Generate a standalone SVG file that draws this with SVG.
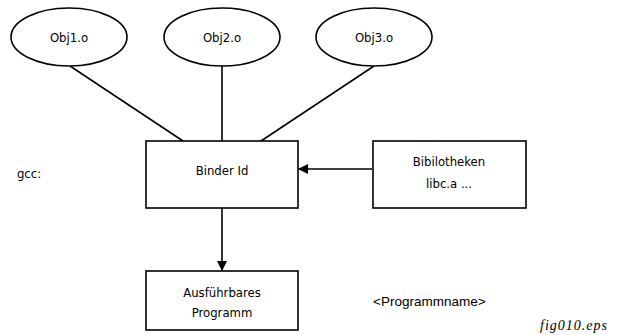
<svg xmlns="http://www.w3.org/2000/svg" width="623" height="335" viewBox="0 0 623 335">
<defs>
<style>
.s{fill:#fff;stroke:#000;stroke-width:1.6}
.c{stroke:#000;stroke-width:1.6;fill:none}
.t{font-family:"DejaVu Sans Condensed","DejaVu Sans",sans-serif;font-size:13px;fill:#000;text-anchor:middle}
.h{font-family:"Liberation Sans",Arial,sans-serif;font-size:13.5px;fill:#000}
.f{font-family:"Liberation Serif",serif;font-style:italic;font-size:14px;letter-spacing:1px;fill:#000}
</style>
<marker id="a" markerWidth="10" markerHeight="10" refX="9" refY="5" orient="auto" markerUnits="userSpaceOnUse">
<path d="M0,0 L10,5 L0,10 Z" fill="#000"/>
</marker>
</defs>
<g id="connectors">
<line class="c" x1="70" y1="66" x2="183" y2="141"/>
<line class="c" x1="222" y1="66" x2="222" y2="141"/>
<line class="c" x1="374" y1="66" x2="261" y2="141"/>
<line class="c" x1="372" y1="169" x2="299" y2="169" marker-end="url(#a)"/>
<line class="c" x1="222" y1="208" x2="222" y2="270" marker-end="url(#a)"/>
</g>
<g id="obj1"><ellipse class="s" cx="69" cy="37" rx="58" ry="29"/><text class="t" x="69" y="42">Obj1.o</text></g>
<g id="obj2"><ellipse class="s" cx="222" cy="37" rx="58" ry="29"/><text class="t" x="222" y="42">Obj2.o</text></g>
<g id="obj3"><ellipse class="s" cx="374" cy="37" rx="58" ry="29"/><text class="t" x="374" y="42">Obj3.o</text></g>
<g id="binder"><rect class="s" x="146" y="141" width="152" height="67"/><text class="t" x="222" y="175">Binder Id</text></g>
<g id="bib"><rect class="s" x="373" y="141" width="153" height="67"/><text class="t" x="449" y="166">Bibilotheken</text><text class="t" x="449" y="188">libc.a ...</text></g>
<g id="prog"><rect class="s" x="146" y="271" width="152" height="59"/><text class="t" x="222" y="297">Ausführbares</text><text class="t" x="222" y="317">Programm</text></g>
<g id="gcc"><text class="t" x="29" y="178">gcc:</text></g>
<g id="pname"><text class="h" x="373" y="306">&lt;Programmname&gt;</text></g>
<g id="fig"><text class="f" x="540" y="330">fig010.eps</text></g>
</svg>
